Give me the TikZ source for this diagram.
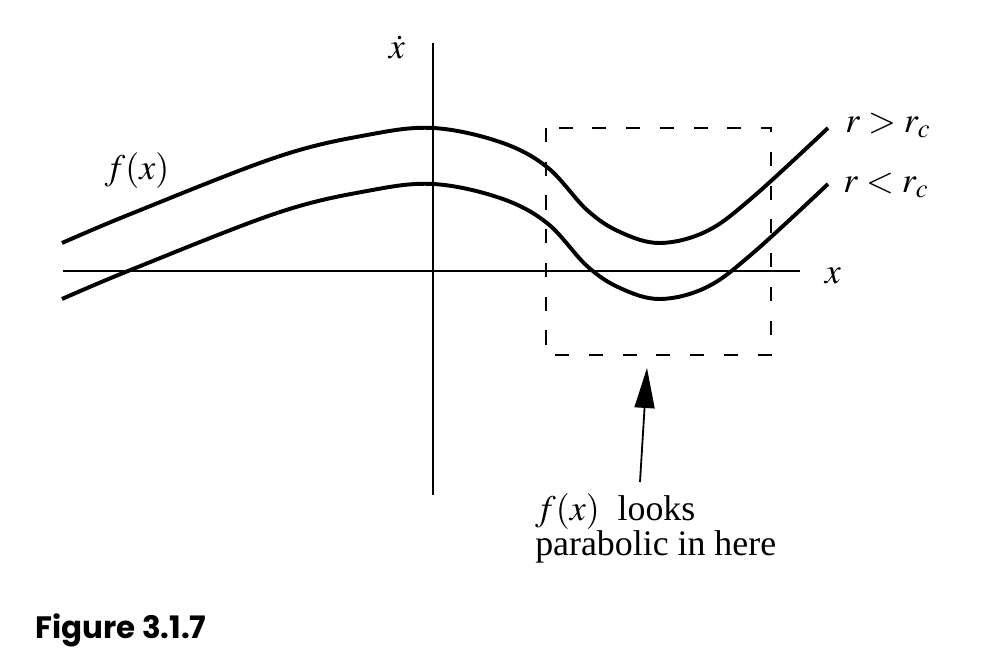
\documentclass[tikz,border=0pt]{standalone}
\usepackage{mathptmx}
\usepackage{fontspec}
\setmainfont{Liberation Serif}
\newfontfamily\figfont{Poppins}
\usetikzlibrary{arrows.meta}

\begin{document}
\begin{tikzpicture}
    [
    curve/.style = {line width=2.8pt},
    axis/.style = {line width=1.2pt},
    window/.style = {line width=1pt,dash pattern=on 10pt off 14pt},
    lbl/.style = {inner sep=0pt,font=\fontsize{25.5}{23}\selectfont}
    ]
\useasboundingbox (-10.825,-9.925) rectangle (14.275,6.775);

\draw[axis] (-9.25,0) -- (9.175,0);
\draw[axis] (0,5.7) -- (0,-5.6);

\draw[curve] plot [smooth,tension=0.6] coordinates {(-9.275,0.7) (-7.5,1.45) (-3.9,2.85) (-1.65,3.4) (0,3.575) (1.675,3.225) (2.85,2.6) (3.85,1.525) (4.675,0.975) (5.675,0.7) (6.85,1.0) (8.0,1.85) (9.875,3.575)};
\draw[curve] plot [smooth,tension=0.6] coordinates {(-9.275,-0.7) (-7.5,0.05) (-3.9,1.45) (-1.65,2.0) (0,2.175) (1.675,1.825) (2.85,1.2) (3.85,0.125) (4.675,-0.425) (5.675,-0.7) (6.85,-0.4) (8.0,0.45) (9.875,2.175)};

\draw[window] (2.825,3.575) rectangle (8.45,-2.1);

\coordinate (tail) at (5.175,-5.275);
\coordinate (tip) at (5.35,-2.425);
\draw[line width=1.3pt,-{Triangle[length=1cm,width=0.5cm]}] (tail) -- (tip);

\node[lbl] (xdot) at (-0.9,5.6) {$\dot x$};
\node[lbl] (fx) at (-7.4,2.5) {$f(x)$};
\node[lbl,anchor=base west] (rup) at (10.3,3.475) {$r > r_c$};
\node[lbl,anchor=base west] (rdown) at (10.25,1.975) {$r < r_c$};
\node[lbl,anchor=base] (xlab) at (10.0,-0.3) {$x$};
\node[lbl,anchor=north west,align=left] (note) at (2.55,-5.55) {$f(x)$\ \ looks\\parabolic in here};

\node[anchor=base west,inner sep=0pt,font=\figfont\bfseries\fontsize{22}{26}\selectfont] (caption) at (-9.95,-9.175) {Figure 3.1.7};

\end{tikzpicture}
\end{document}
